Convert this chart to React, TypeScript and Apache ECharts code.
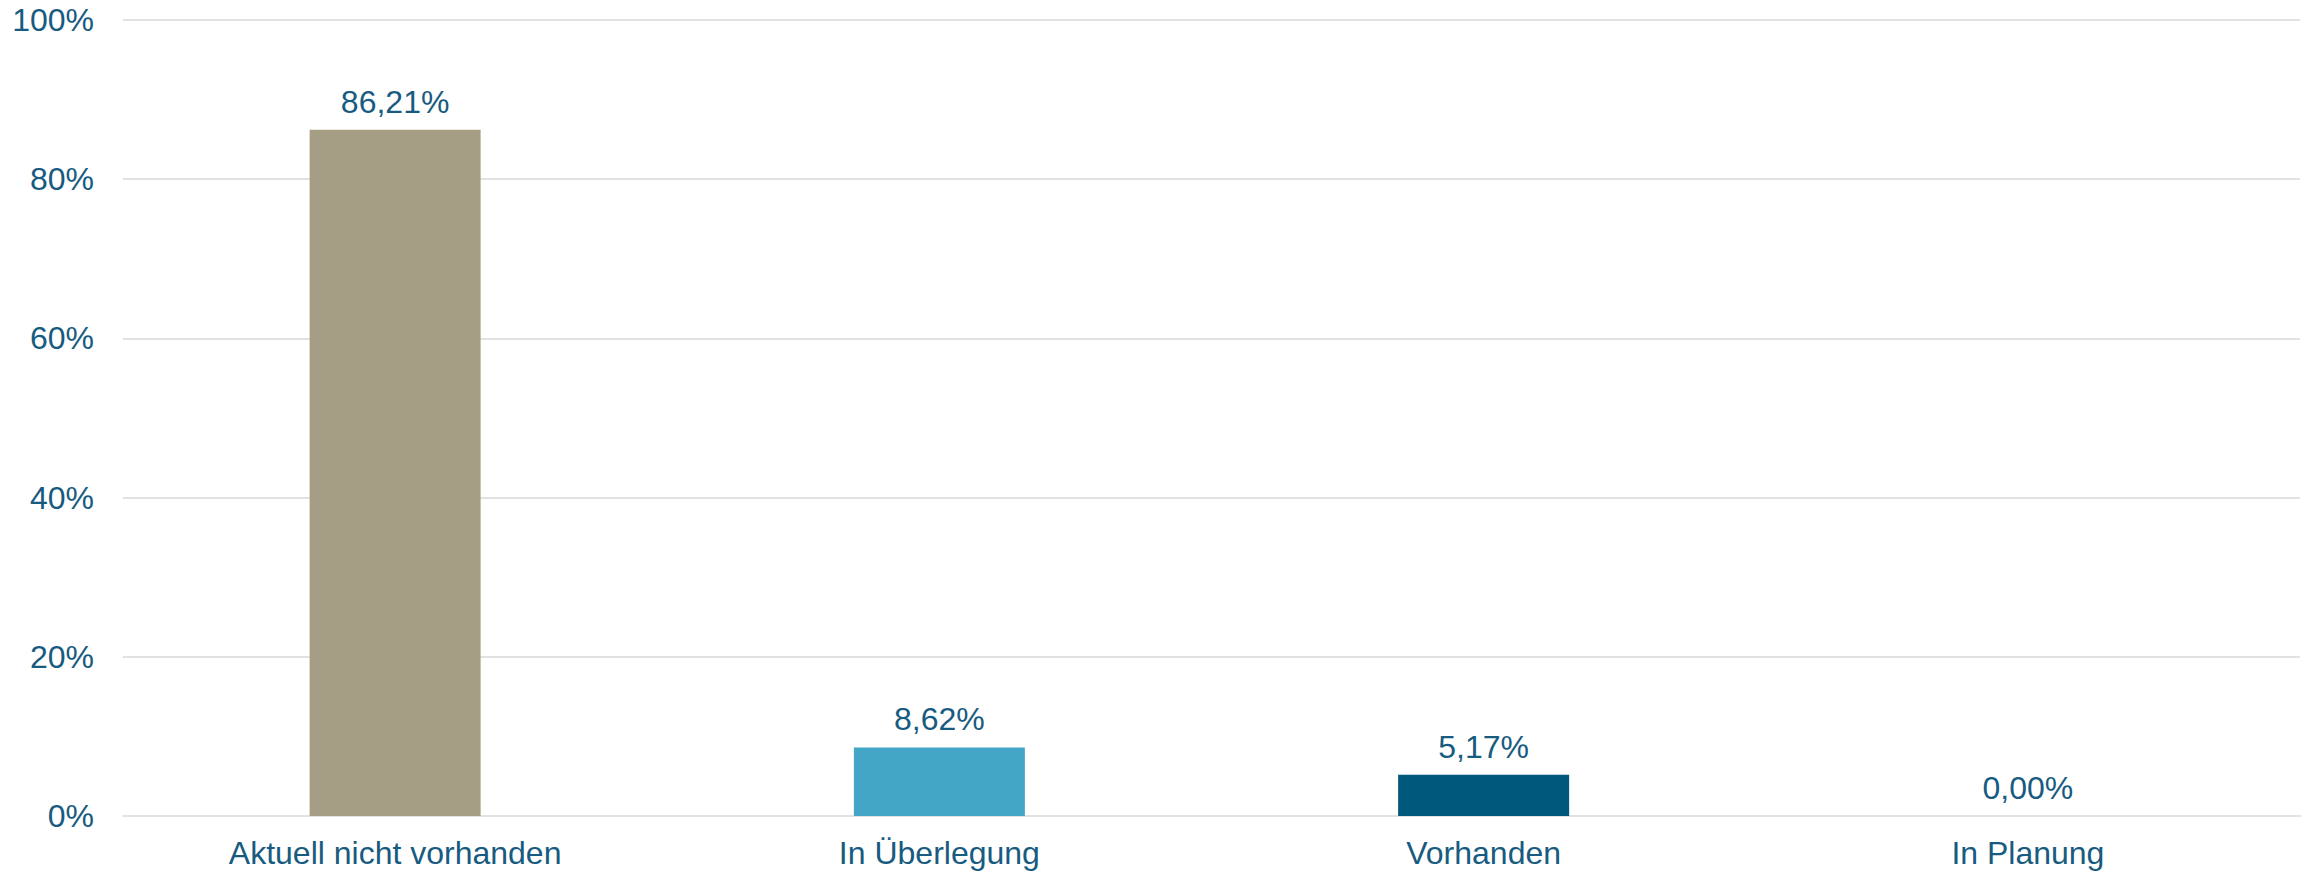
import React, { useEffect, useRef } from "react";
import * as echarts from "echarts";

const categories = ["Aktuell nicht vorhanden", "In Überlegung", "Vorhanden", "In Planung"];
const values = [86.21, 8.62, 5.17, 0.0];
const barColors = ["#A59E84", "#43A6C6", "#00587C", "#00587C"];
const yTicks = { min: 0, max: 100, interval: 20 };

const TEXT = "#185B80";
const GRID = "#E2E2E2";
const FONT = "'Liberation Sans', Arial, sans-serif";
const FS = 32;

export default function App() {
  const ref = useRef<HTMLDivElement>(null);
  useEffect(() => {
    if (!ref.current) return;
    const chart = echarts.init(ref.current, null, { renderer: "svg" });
    chart.setOption({
      animation: false,
      backgroundColor: "#ffffff",
      grid: { left: 123, right: 15, top: 20, bottom: 57, containLabel: false },
      xAxis: {
        type: "category",
        data: categories,
        axisLine: { show: true, lineStyle: { color: GRID, width: 2 } },
        axisTick: { show: false },
        axisLabel: { color: TEXT, fontSize: FS, fontFamily: FONT, margin: 21 },
      },
      yAxis: {
        type: "value",
        min: yTicks.min,
        max: yTicks.max,
        interval: yTicks.interval,
        axisLine: { show: false },
        axisTick: { show: false },
        axisLabel: {
          color: TEXT,
          fontSize: FS,
          fontFamily: FONT,
          margin: 29,
          formatter: (v: number) => `${v}%`,
        },
        splitLine: { lineStyle: { color: GRID, width: 2 } },
      },
      series: [
        {
          type: "bar",
          barWidth: 171,
          data: values.map((v, i) => ({ value: v, itemStyle: { color: barColors[i] } })),
          label: {
            show: true,
            position: "top",
            distance: 12,
            color: TEXT,
            fontSize: FS,
            fontFamily: FONT,
            formatter: (p: any) => `${Number(p.value).toFixed(2).replace(".", ",")}%`,
          },
        },
      ],
    });
    return () => chart.dispose();
  }, []);
  return (
    <div
      ref={ref}
      style={{ position: "fixed", left: 0, top: 0, width: 2315, height: 873, background: "#fff" }}
    />
  );
}
